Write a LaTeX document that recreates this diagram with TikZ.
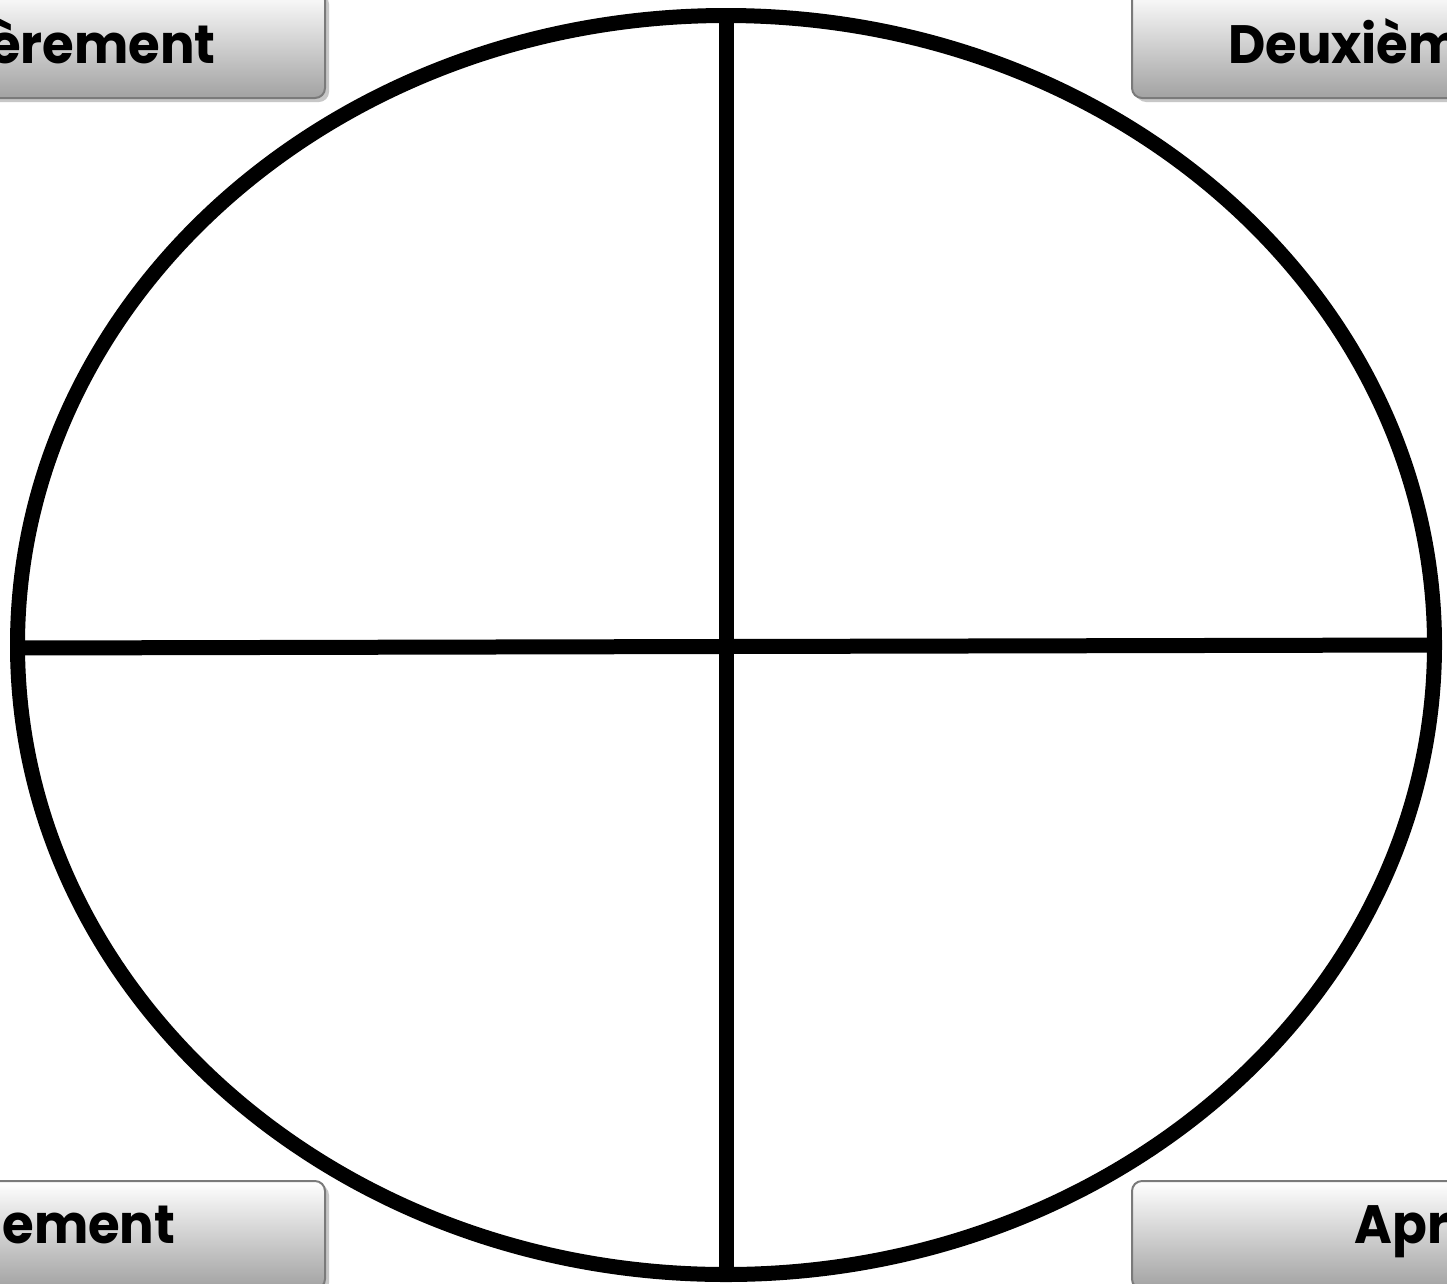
\documentclass[tikz,border=0pt]{standalone}
\usepackage{fontspec}
\newfontfamily\lab{Poppins}[FakeStretch=0.95]
\usetikzlibrary{shapes.geometric,shadows}
\definecolor{boxedge}{HTML}{7A7A7A}
\definecolor{boxbot}{HTML}{A2A2A2}
\tikzset{
  tab/.style={rectangle, rounded corners=10pt, draw=boxedge, line width=2pt,
    top color=white, bottom color=boxbot, minimum width=600pt, minimum height=108pt,
    inner sep=0pt,
    drop shadow={shadow xshift=4pt, shadow yshift=-4pt, fill=black!22, opacity=1}},
  tabtext/.style={font=\lab\bfseries\fontsize{54}{60}\selectfont, anchor=base, inner sep=0pt},
  ring/.style={ellipse, draw=black, line width=15pt, minimum width=1417pt, minimum height=1259pt, inner sep=0pt, outer sep=0pt},
  bar/.style={draw=black, line width=15pt}
}
\begin{document}
\begin{tikzpicture}[x=1pt,y=-1pt]
\useasboundingbox[fill=white] (0,0) rectangle (1447,1283);
\begin{scope}
\clip (0,0) rectangle (1447,1283);
\node[ring] (e) at (726,645) {};
\coordinate (hl) at (17.5,648);
\coordinate (hr) at (1434.5,645);
\draw[bar] (e.north) -- (e.south);
\draw[bar] (hl) -- (hr);
\node[tab] (b1) at (25,44) {};
\node[tab] (b2) at (1432,44) {};
\node[tab] (b3) at (25,1235) {};
\node[tab] (b4) at (1432,1235) {};
\node[tabtext] (t1) at (25,63) {Premièrement};
\node[tabtext] (t2) at (1432,63) {Deuxièmement};
\node[tabtext] (t3) at (25,1243) {Finalement};
\node[tabtext] (t4) at (1432,1243) {Après};
\end{scope}
\end{tikzpicture}
\end{document}
